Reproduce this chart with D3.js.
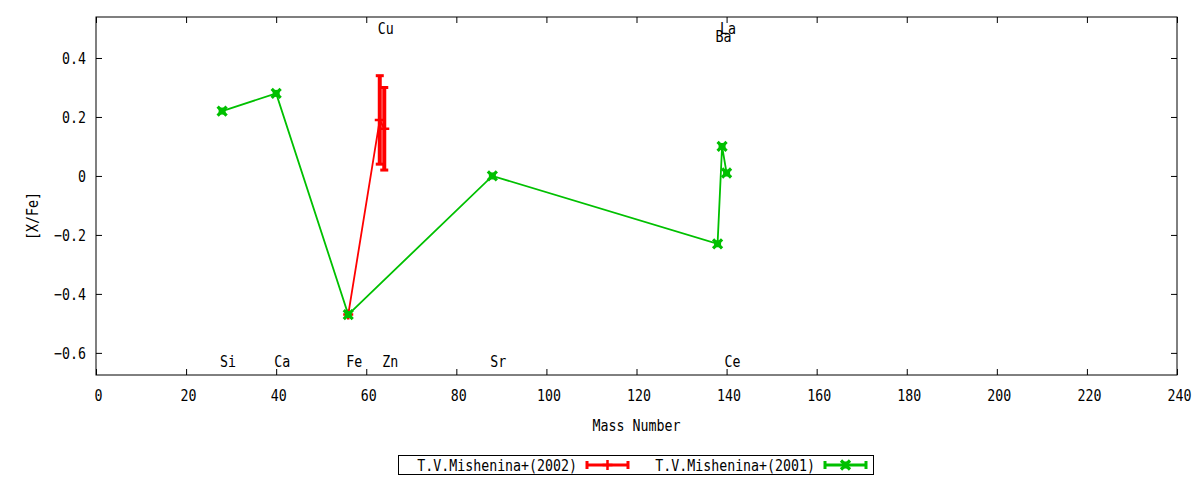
<!DOCTYPE html>
<html>
<head>
<meta charset="utf-8">
<script src="https://cdn.jsdelivr.net/npm/d3@7"></script>
<style>
  body { margin: 0; background: #fff; }
  text { font-family: "DejaVu Sans Mono", monospace; font-size: 16px; fill: #000; }
</style>
</head>
<body>
<svg id="chart" width="1200" height="480"></svg>
<script>
// element labels (mass number, y position of the label)
const labelNames = ["Si", "Ca", "Fe", "Cu", "Zn", "Sr", "Ba", "La", "Ce"];
const labelMass  = [28, 40, 56, 63, 64, 88, 138, 139, 140];
const labelY     = [-0.63, -0.63, -0.63, 0.5, -0.63, -0.63, 0.47, 0.5, -0.63];

// T.V.Mishenina+(2002)
const mass2002 = [56, 63, 64];
const val2002  = [-0.47, 0.19, 0.16];
const err2002  = [0, 0.15, 0.14];

// T.V.Mishenina+(2001)
const mass2001 = [28, 40, 56, 88, 138, 139, 140];
const val2001  = [0.22, 0.28, -0.47, 0.00, -0.23, 0.10, 0.01];
const err2001  = [0, 0, 0, 0, 0, 0, 0];

const xTicks = d3.range(0, 241, 20);
const yTicks = [-0.6, -0.4, -0.2, 0, 0.2, 0.4];

const seriesNames  = ["T.V.Mishenina+(2002)", "T.V.Mishenina+(2001)"];
const seriesColors = ["#ff0000", "#00c000"];

const margin = {left: 96, right: 23, top: 17, bottom: 105};
const width = 1200, height = 480;
const squeeze = 0.83;  // the gnuplot font is a narrow mono

const svg = d3.select("#chart");

const x = d3.scaleLinear().domain([0, 240]).range([margin.left, width - margin.right]);
const y = d3.scaleLinear().domain([-0.675, 0.539]).range([height - margin.bottom, margin.top]);

function txt(parent, tx, ty, s, anchor, rot) {
    return parent.append("text")
        .attr("transform", `translate(${tx},${ty})` + (rot ? ` rotate(${rot})` : "") + ` scale(${squeeze},1)`)
        .attr("text-anchor", anchor || "start")
        .text(s);
}

const plot = svg.append("g");

// axes, gnuplot style: ticks inside and mirrored
const tick = 6;
const x0 = margin.left, x1 = width - margin.right;
const y0 = height - margin.bottom, y1 = margin.top;

const axisBottom = d3.axisBottom(x).tickValues(xTicks).tickSize(-tick).tickPadding(14.5).tickFormat(d3.format("d"));
const axisTop = d3.axisTop(x).tickValues(xTicks).tickSize(-tick).tickFormat("");
const axisLeft = d3.axisLeft(y).tickValues(yTicks).tickSize(-tick).tickPadding(12)
    .tickFormat(d => d === 0 ? "0" : d3.format(".1f")(d));
const axisRight = d3.axisRight(y).tickValues(yTicks).tickSize(-tick).tickFormat("");

function styleAxis(g) {
    g.select(".domain").remove();
    g.selectAll("line").attr("stroke", "#000");
    g.selectAll("text")
        .attr("font-family", "DejaVu Sans Mono").attr("font-size", "16px").attr("fill", "#000")
        .attr("transform", `scale(${squeeze},1)`);
}

// bottom labels sit a little right of their ticks, so shift the group and pull the tick marks back
const bottomAxis = plot.append("g").attr("transform", `translate(2,${y0})`).call(axisBottom).call(styleAxis);
bottomAxis.selectAll("line").attr("x1", -2).attr("x2", -2);
plot.append("g").attr("transform", `translate(0,${y1})`).call(axisTop).call(styleAxis);
plot.append("g").attr("transform", `translate(${x0},0)`).call(axisLeft).call(styleAxis);
plot.append("g").attr("transform", `translate(${x1},0)`).call(axisRight).call(styleAxis);

plot.append("rect")
    .attr("x", x0).attr("y", y1)
    .attr("width", x1 - x0).attr("height", y0 - y1)
    .attr("fill", "none").attr("stroke", "#000").attr("stroke-width", 1);

// axis titles
txt(svg, (x0 + x1) / 2, 431, "Mass Number", "middle");
txt(svg, 38, (y0 + y1) / 2 + 20, "[X/Fe]", "middle", -90);

// element labels
labelNames.forEach((name, i) => {
    txt(plot, x(labelMass[i]) - 2, y(labelY[i]) + 5, name, "start");
});

const line = d3.line().x(d => x(d.m)).y(d => y(d.v));

function drawSeries(mass, vals, errs, color, marker) {
    const pts = mass.map((m, i) => ({m: m, v: vals[i], e: errs[i]}));
    const g = plot.append("g");

    g.append("path")
        .datum(pts)
        .attr("d", line)
        .attr("fill", "none")
        .attr("stroke", color)
        .attr("stroke-width", 1.8);

    // error bars
    pts.filter(p => p.e > 0).forEach(p => {
        const cx = x(p.m);
        g.append("line")
            .attr("x1", cx).attr("x2", cx)
            .attr("y1", y(p.v + p.e)).attr("y2", y(p.v - p.e))
            .attr("stroke", color).attr("stroke-width", 4);
        [p.v + p.e, p.v - p.e].forEach(v => {
            g.append("line")
                .attr("x1", cx - 4).attr("x2", cx + 4)
                .attr("y1", y(v)).attr("y2", y(v))
                .attr("stroke", color).attr("stroke-width", 3);
        });
    });

    // markers
    pts.forEach(p => marker(g, x(p.m), y(p.v), color));
}

function plusMarker(g, cx, cy, color) {
    g.append("path")
        .attr("d", `M${cx - 5},${cy}H${cx + 5}M${cx},${cy - 5}V${cy + 5}`)
        .attr("stroke", color).attr("stroke-width", 2.5).attr("fill", "none");
}

function crossMarker(g, cx, cy, color) {
    g.append("rect")
        .attr("x", cx - 3.5).attr("y", cy - 3.5).attr("width", 7).attr("height", 7)
        .attr("fill", color);
    g.append("path")
        .attr("d", `M${cx - 4.5},${cy - 4.5}L${cx + 4.5},${cy + 4.5}M${cx - 4.5},${cy + 4.5}L${cx + 4.5},${cy - 4.5}`)
        .attr("stroke", color).attr("stroke-width", 3.2).attr("fill", "none");
}

drawSeries(mass2002, val2002, err2002, seriesColors[0], plusMarker);
drawSeries(mass2001, val2001, err2001, seriesColors[1], crossMarker);

// legend
const legend = svg.append("g");
legend.append("rect")
    .attr("x", 398.5).attr("y", 455.5).attr("width", 475).attr("height", 19)
    .attr("fill", "none").attr("stroke", "#000").attr("stroke-width", 1);

const legendTextEnd = [577, 815];
const markers = [plusMarker, crossMarker];
seriesNames.forEach((name, i) => {
    const ly = 465;
    txt(legend, legendTextEnd[i], ly + 6, name, "end");
    const sx0 = legendTextEnd[i] + 10, sx1 = sx0 + 41;
    legend.append("line")
        .attr("x1", sx0).attr("x2", sx1).attr("y1", ly).attr("y2", ly)
        .attr("stroke", seriesColors[i]).attr("stroke-width", 3);
    [sx0, sx1].forEach(sx => {
        legend.append("line")
            .attr("x1", sx).attr("x2", sx).attr("y1", ly - 4).attr("y2", ly + 4)
            .attr("stroke", seriesColors[i]).attr("stroke-width", 3);
    });
    markers[i](legend, (sx0 + sx1) / 2, ly, seriesColors[i]);
});
</script>
</body>
</html>
